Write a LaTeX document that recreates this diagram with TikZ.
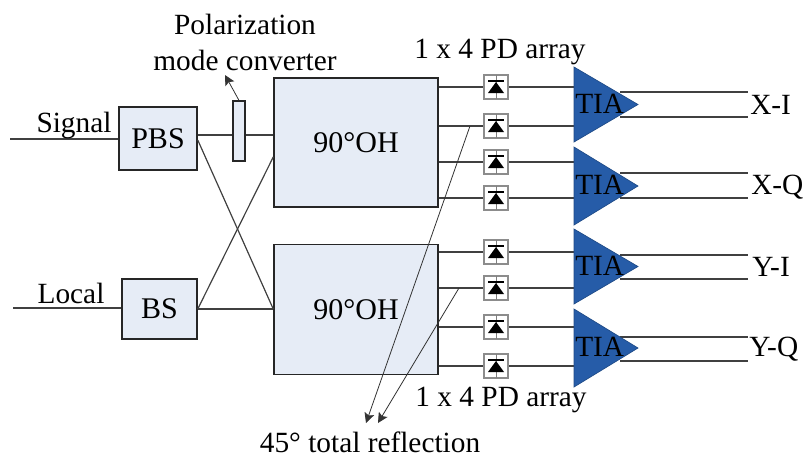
\documentclass[tikz,border=0pt]{standalone}
\usepackage{fontspec}
\setmainfont{Liberation Serif}
\usetikzlibrary{arrows.meta}
\definecolor{boxfill}{RGB}{230,236,246}
\definecolor{tiablue}{RGB}{38,92,168}
\tikzset{
  block/.style={draw=black!85,line width=1.1pt,fill=boxfill,inner sep=0pt,font=\fontsize{22.5}{22.5}\selectfont},
  wire/.style={draw=black!75,line width=0.9pt},
  pointer/.style={draw=black!80,line width=0.6pt,-{Stealth[length=7.5pt,width=7.5pt,inset=1.5pt]}},
  lab/.style={inner sep=0pt,font=\fontsize{22}{27}\selectfont,align=center},
  pdbox/.style={draw=black!45,line width=0.9pt,fill=white,minimum size=18pt,inner sep=0pt},
  tia/.style={draw=tiablue!80!black,fill=tiablue,line width=0.5pt},
}
\newcommand{\pdiode}[2]{%
  \node[pdbox] (#2) at (496,#1) {};
  \draw[black!50,line width=0.6pt] (496,#1-12) -- (496,#1+12);
  \fill[black] (488,#1+6) -- (504,#1+6) -- (496,#1-5) -- cycle;
  \draw[black,line width=0.8pt] (488,#1-6) -- (504,#1-6);
}
\newcommand{\tiaamp}[5]{%
  \coordinate (#1t) at (574,#2);
  \coordinate (#1b) at (574,#3);
  \coordinate (#1p) at (638,{(#2+#3)/2});
  \draw[wire] (620,#4) -- (748,#4);
  \draw[wire] (620,#5) -- (748,#5);
  \draw[tia] (#1t) -- (#1p) -- (#1b) -- cycle;
  \node[lab,anchor=west] at (575,{(#2+#3)/2-1}) {TIA};
}
\begin{document}
\begin{tikzpicture}[x=0.75pt,y=-0.75pt]
\useasboundingbox (0,0) rectangle (805,457);
\node[block,minimum width=58.5pt,minimum height=47.25pt] (pbs) at (158,138.5) {PBS};
\node[block,minimum width=56.25pt,minimum height=45pt] (bs) at (159.5,309) {BS};
\node[block,minimum width=123pt,minimum height=97pt] (oh1) at (356,142.5) {90°OH};
\node[block,minimum width=123pt,minimum height=97.5pt] (oh2) at (356,309.5) {90°OH};
\coordinate (sigin) at (10,139);
\coordinate (locin) at (13,308);
\draw[wire] (sigin) -- (pbs.west |- sigin);
\draw[wire] (locin) -- (bs.west |- locin);
\draw[wire] (pbs.east |- 0,135) -- (oh1.west |- 0,135);
\draw[wire] (pbs.east |- 0,140) -- (oh2.west |- 0,309);
\draw[wire] (bs.east) -- (oh1.west |- 0,157);
\draw[wire] (bs.east) -- (oh2.west |- 0,309);
\node[draw=black!85,line width=0.9pt,fill=boxfill,minimum width=9pt,minimum height=45pt,inner sep=0pt] (pmc) at (239,131) {};
\coordinate (pmclab) at (225,75);
\draw[pointer] (pmc.north) -- (pmclab);
\foreach \y/\n in {87/a,126/b,162/c,198/d}{
  \draw[wire] (oh1.east |- 0,\y) -- (574,\y);
  \pdiode{\y}{pd\n}
}
\foreach \y/\n in {252/e,288/f,327/g,366/h}{
  \draw[wire] (oh2.east |- 0,\y) -- (574,\y);
  \pdiode{\y}{pd\n}
}
\tiaamp{ta}{67}{142}{92}{117}
\tiaamp{tb}{147}{225}{173}{198}
\tiaamp{tc}{229}{304}{255}{279}
\tiaamp{td}{309}{387}{337}{361}
\node[lab] (polab) at (245,42) {Polarization\\mode converter};
\node[lab] (ptop) at (500,52) {1 x 4 PD array};
\node[lab] (pbot) at (501,400) {1 x 4 PD array};
\node[lab] (refl) at (370,442) {45° total reflection};
\node[lab] (sig) at (74,125) {Signal};
\node[lab] (loc) at (71,293) {Local};
\node[lab,anchor=west] (xi) at (750,105) {X-I};
\node[lab,anchor=west] (xq) at (751,187) {X-Q};
\node[lab,anchor=west] (yi) at (752,267) {Y-I};
\node[lab,anchor=west] (yq) at (749,349) {Y-Q};
\coordinate (r1) at (470,126);
\coordinate (r2) at (459,288);
\coordinate (r1e) at (366,423);
\coordinate (r2e) at (378,423);
\draw[pointer] (r1) -- (r1e);
\draw[pointer] (r2) -- (r2e);
\end{tikzpicture}
\end{document}
